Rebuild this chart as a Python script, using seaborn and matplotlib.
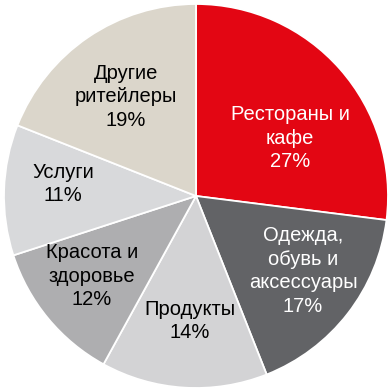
import matplotlib
matplotlib.use("Agg")
import matplotlib.pyplot as plt
import seaborn as sns

# Data
labels = ["Рестораны и\nкафе", "Одежда,\nобувь и\nаксессуары", "Продукты",
          "Красота и\nздоровье", "Услуги", "Другие\nритейлеры"]
shares = [27, 17, 14, 12, 11, 19]
colors = ["#E30613", "#626366", "#D3D3D5", "#AEAEB0", "#D8D9DB", "#DBD6CB"]
text_colors = ["white", "white", "black", "black", "black", "black"]

# label centres (pixels from top-left of the image)
label_pos = [(290, 138), (303, 271), (190, 321), (92, 276), (63, 184), (126, 97)]

sns.set_theme(style="white")
plt.rcParams['font.family'] = ['Liberation Sans', 'DejaVu Sans']

W, H = 392, 389
fig = plt.figure(figsize=(W / 100, H / 100), dpi=100)
ax = fig.add_axes([0, 0, 1, 1])

ax.pie(shares, colors=colors, startangle=90, counterclock=False,
       wedgeprops=dict(edgecolor="white", linewidth=1.3))

# centre at (196, 196) px, radius 192 px
cx, cy, r = 196, 196, 192
ax.set_xlim(-cx / r, (W - cx) / r)
ax.set_ylim(-(H - cy) / r, cy / r)
ax.set_aspect("auto")
ax.axis("off")

for lab, val, (px, py), tc in zip(labels, shares, label_pos, text_colors):
    ax.text((px - cx) / r, (cy - py) / r, f"{lab}\n{val}%", ha="center", va="center",
            fontsize=14.5, color=tc, linespacing=1.33)

fig.savefig("out.png", dpi=100, facecolor="white")
